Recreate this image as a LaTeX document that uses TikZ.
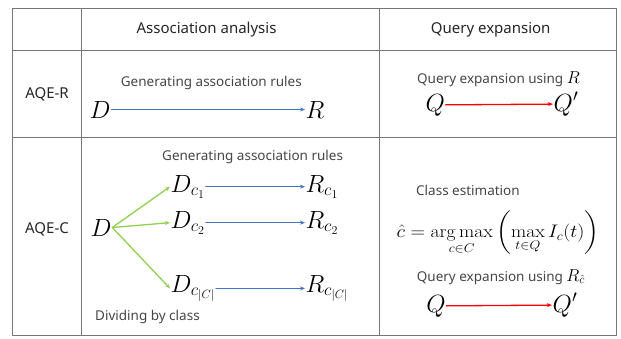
\documentclass[tikz,border=0pt]{standalone}
\usepackage{amsmath}
\usepackage{fontspec}
\setsansfont{Noto Sans}
\usetikzlibrary{arrows.meta}
\DeclareMathSizes{24}{24}{16.5}{12}
\DeclareMathSizes{17}{17}{12.5}{10}
\newcommand{\capmath}[1]{{\color{black}\fontsize{17}{17}\selectfont$#1$}}

\begin{document}
\begin{tikzpicture}[x=1pt,y=-1pt,line cap=round,line join=round]
  % ----- styles & colors -----
  \definecolor{rulegray}{RGB}{118,118,118}
  \definecolor{txtgray}{RGB}{70,70,70}
  \definecolor{assocblue}{RGB}{68,114,196}
  \definecolor{splitgreen}{RGB}{146,208,80}
  \definecolor{queryred}{RGB}{255,0,0}
  \tikzset{
    tablerule/.style={draw=rulegray,line width=0.8pt},
    head/.style={font=\sffamily\fontsize{15}{17}\selectfont,text=black!85,inner sep=0pt},
    caption/.style={font=\sffamily\fontsize{13.5}{15}\selectfont,text=txtgray,inner sep=0pt,anchor=west},
    sym/.style={font=\fontsize{24}{26}\selectfont,inner sep=0.5pt,anchor=base west},
    arr_blue/.style={draw=assocblue,line width=1.1pt,-{Stealth[length=5pt,width=4pt]}},
    arr_green/.style={draw=splitgreen,line width=1.3pt,-{Stealth[length=5pt,width=4pt]}},
    arr_red/.style={draw=queryred,line width=1.3pt,-{Stealth[length=5pt,width=4pt]}}
  }
  \useasboundingbox (0,0) rectangle (621,338);

  % ----- table -----
  \draw[tablerule] (12.7,8.3) rectangle (616.7,335.5);
  \draw[tablerule] (81.7,8.3) -- (81.7,335.5);
  \draw[tablerule] (379.3,8.3) -- (379.3,335.5);
  \draw[tablerule] (12.7,50.7) -- (616.7,50.7);
  \draw[tablerule] (12.7,137.3) -- (616.7,137.3);

  % ----- headers -----
  \node[head] (hassoc) at (206.5,30) {Association analysis};
  \node[head] (hquery) at (490.7,30) {Query expansion};
  \node[head] (aqer) at (47,94) {AQE-R};
  \node[head] (aqec) at (47,229) {AQE-C};

  % ----- AQE-R -----
  \node[caption] (genr) at (120.7,83.3) {Generating association rules};
  \node[sym] (D) at (89,118) {$D$};
  \node[sym] (R) at (305,118) {$R$};
  \draw[arr_blue] (D) -- (R);

  \node[caption] (qexr) at (417,79.3) {Query expansion using \capmath{R}};
  \node[sym] (Q) at (425,111) {$Q$};
  \node[sym] (Qp) at (553,111) {$Q'$};
  \draw[arr_red] (Q) -- (Qp.west);

  % ----- AQE-C -----
  \node[caption] (genc) at (162,157.3) {Generating association rules};
  \node[sym] (Dc) at (90,236) {$D$};
  \node[sym] (Dc1) at (170,192) {$D_{c_1}$};
  \node[sym] (Dc2) at (170,228) {$D_{c_2}$};
  \node[sym] (DcC) at (170,292) {$D_{c_{|C|}}$};
  \node[sym] (Rc1) at (305,192) {$R_{c_1}$};
  \node[sym] (Rc2) at (305,228) {$R_{c_2}$};
  \node[sym] (RcC) at (305,292) {$R_{c_{|C|}}$};
  \foreach \k in {1,2,C}{
    \draw[arr_green] (Dc.east) -- (Dc\k.west);
    \draw[arr_blue] (Dc\k) -- (Rc\k);
  }
  \node[caption] (divide) at (95,317.3) {Dividing by class};

  \node[caption] (cest) at (416,190) {Class estimation};
  \node[font=\fontsize{17}{19}\selectfont,inner sep=0pt] (argmax) at (498,233)
    {\scalebox{1.16}[1.05]{$\displaystyle \hat{c}=\mathop{\arg\max}_{c\in C}\left(\max_{t\in Q} I_c(t)\right)$}};
  \node[caption] (qexc) at (416.7,277) {Query expansion using \capmath{R_{\hat{c}}}};
  \node[sym] (Qc) at (425.7,312) {$Q$};
  \node[sym] (Qcp) at (552,312) {$Q'$};
  \draw[arr_red] (Qc) -- (Qcp.west);
\end{tikzpicture}
\end{document}
